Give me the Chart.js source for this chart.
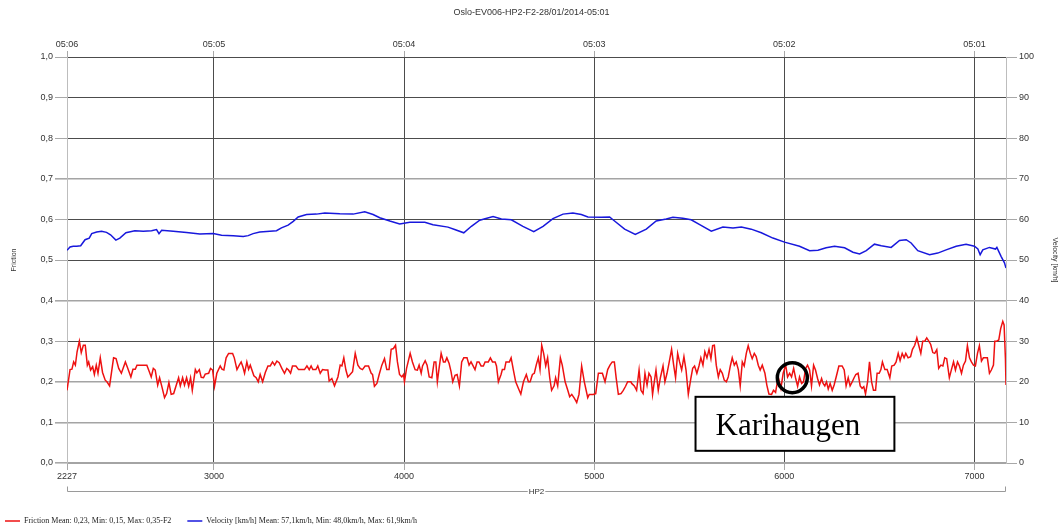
<!DOCTYPE html>
<html>
<head>
<meta charset="utf-8">
<script src="https://cdn.jsdelivr.net/npm/chart.js@4.4.1/dist/chart.umd.min.js"></script>
<style>
  html, body { margin: 0; padding: 0; background: #fff; }
  canvas { display: block; }
</style>
</head>
<body>
<canvas id="chart" width="1063" height="530"></canvas>
<script>
// ---- data ----
const chartTitle = 'Oslo-EV006-HP2-F2-28/01/2014-05:01';
const distStart = 2227;
const distEnd = 7166;
const distTicks = [2227, 3000, 4000, 5000, 6000, 7000];
const timeTicks = ['05:06', '05:05', '05:04', '05:03', '05:02', '05:01'];
const sectionLabel = 'HP2';
const legendLabels = [
  'Friction Mean: 0,23, Min: 0,15, Max: 0,35-F2',
  'Velocity [km/h] Mean: 57,1km/h, Min: 48,0km/h, Max: 61,9km/h'
];

const frictionDist = [
  2227,2232,2243,2253,2262,2271,2280,2292,2302,2313,2323,2334,2341,2351,2362,2371,2381,2390,2402,2414,
  2428,2437,2451,2472,2485,2499,2513,2534,2546,2563,2574,2586,2595,2647,2660,2670,2681,2691,2704,2714,
  2726,2740,2751,2763,2775,2788,2802,2814,2823,2835,2845,2856,2867,2877,2886,2902,2910,2923,2933,2945,
  2954,2972,2982,2993,3003,3015,3033,3042,3052,3064,3077,3098,3107,3121,3133,3143,3152,3161,3173,3182,
  3191,3210,3222,3233,3243,3256,3270,3284,3296,3308,3319,3331,3343,3357,3371,3383,3392,3403,3413,3431,
  3445,3476,3489,3501,3511,3520,3536,3546,3559,3571,3585,3599,3606,3620,3634,3652,3664,3673,3683,3694,
  3704,3716,3729,3743,3757,3769,3781,3795,3813,3827,3834,3844,3857,3869,3883,3897,3909,3921,3932,3944,
  3955,3965,3976,3988,3997,4002,4013,4032,4044,4058,4070,4079,4090,4097,4111,4121,4132,4146,4158,4167,
  4175,4184,4195,4207,4216,4225,4237,4247,4256,4268,4279,4291,4303,4314,4331,4342,4352,4363,4373,4384,
  4394,4405,4417,4426,4443,4454,4465,4479,4486,4496,4510,4517,4528,4536,4554,4563,4575,4587,4601,4614,
  4628,4643,4654,4663,4675,4685,4696,4706,4715,4724,4734,4745,4755,4766,4776,4789,4797,4808,4822,4832,
  4847,4861,4871,4882,4896,4908,4920,4934,4948,4966,4974,4995,5008,5022,5043,5057,5071,5083,5095,5106,
  5116,5127,5141,5153,5165,5176,5193,5197,5211,5223,5236,5246,5257,5267,5278,5288,5299,5307,5316,5325,
  5337,5348,5362,5372,5383,5393,5407,5418,5428,5439,5449,5460,5472,5483,5495,5509,5518,5528,5540,5551,
  5561,5572,5582,5593,5604,5614,5623,5632,5642,5653,5663,5674,5684,5695,5705,5716,5726,5737,5747,5758,
  5768,5779,5789,5800,5810,5821,5831,5842,5852,5863,5873,5884,5898,5908,5919,5933,5943,5954,5968,5982,
  5994,6007,6017,6028,6038,6049,6059,6070,6080,6091,6101,6112,6122,6133,6143,6154,6164,6175,6185,6196,
  6204,6213,6222,6231,6241,6252,6262,6275,6287,6304,6315,6325,6336,6346,6357,6367,6376,6388,6399,6409,
  6418,6427,6438,6448,6459,6469,6480,6488,6499,6508,6516,6529,6541,6555,6565,6578,6588,6599,6609,6620,
  6630,6639,6651,6664,6674,6686,6697,6707,6718,6728,6739,6749,6760,6770,6781,6791,6802,6812,6823,6834,
  6844,6854,6868,6879,6890,6900,6911,6921,6932,6942,6953,6963,6974,6984,6995,7005,7016,7026,7037,7047,
  7058,7068,7079,7089,7100,7107,7117,7128,7138,7149,7156,7163,7166
];
const frictionVal = [
  0.179,0.179,0.230,0.231,0.249,0.241,0.274,0.300,0.272,0.290,0.290,0.241,0.249,0.229,0.237,0.218,0.241,0.221,0.259,0.223,
  0.204,0.200,0.190,0.259,0.257,0.233,0.221,0.249,0.234,0.212,0.231,0.231,0.241,0.241,0.225,0.212,0.233,0.229,0.192,0.210,
  0.188,0.161,0.171,0.198,0.169,0.171,0.192,0.210,0.190,0.210,0.192,0.210,0.189,0.210,0.179,0.230,0.222,0.230,0.211,0.210,
  0.219,0.221,0.233,0.229,0.189,0.221,0.239,0.231,0.229,0.259,0.270,0.270,0.259,0.230,0.241,0.249,0.237,0.221,0.249,0.231,
  0.241,0.215,0.210,0.200,0.218,0.200,0.223,0.239,0.239,0.249,0.241,0.251,0.247,0.233,0.221,0.233,0.229,0.221,0.239,0.239,
  0.230,0.230,0.239,0.230,0.239,0.230,0.230,0.239,0.221,0.230,0.229,0.229,0.202,0.208,0.190,0.212,0.241,0.239,0.259,0.229,
  0.212,0.218,0.225,0.270,0.241,0.233,0.230,0.239,0.239,0.221,0.218,0.189,0.196,0.218,0.241,0.257,0.230,0.230,0.280,0.282,
  0.290,0.249,0.218,0.212,0.218,0.200,0.233,0.270,0.249,0.230,0.229,0.241,0.221,0.239,0.252,0.241,0.212,0.210,0.249,0.249,
  0.200,0.233,0.270,0.249,0.249,0.259,0.245,0.225,0.200,0.216,0.218,0.190,0.249,0.259,0.259,0.241,0.249,0.239,0.230,0.249,
  0.249,0.239,0.239,0.249,0.249,0.259,0.249,0.249,0.239,0.200,0.218,0.230,0.230,0.249,0.249,0.259,0.229,0.200,0.184,0.170,
  0.200,0.218,0.200,0.200,0.218,0.221,0.243,0.259,0.230,0.290,0.270,0.239,0.259,0.210,0.179,0.190,0.210,0.190,0.259,0.241,
  0.200,0.179,0.163,0.169,0.159,0.149,0.169,0.239,0.200,0.161,0.169,0.169,0.171,0.221,0.221,0.200,0.230,0.241,0.249,0.249,
  0.208,0.169,0.171,0.179,0.189,0.200,0.200,0.196,0.190,0.179,0.229,0.179,0.171,0.221,0.192,0.221,0.212,0.169,0.200,0.229,
  0.179,0.210,0.239,0.200,0.221,0.245,0.280,0.241,0.210,0.270,0.249,0.229,0.262,0.229,0.169,0.210,0.233,0.239,0.221,0.239,
  0.259,0.241,0.274,0.259,0.280,0.257,0.289,0.290,0.241,0.212,0.230,0.221,0.204,0.200,0.212,0.239,0.259,0.241,0.249,0.230,
  0.190,0.249,0.239,0.270,0.289,0.270,0.257,0.270,0.262,0.241,0.229,0.241,0.221,0.192,0.170,0.169,0.179,0.174,0.212,0.184,
  0.221,0.241,0.212,0.221,0.212,0.233,0.210,0.189,0.212,0.196,0.200,0.233,0.241,0.229,0.190,0.241,0.229,0.208,0.192,0.208,
  0.196,0.190,0.200,0.182,0.196,0.179,0.192,0.216,0.239,0.239,0.229,0.190,0.210,0.190,0.200,0.210,0.218,0.221,0.190,0.184,
  0.188,0.170,0.200,0.249,0.200,0.179,0.179,0.221,0.221,0.230,0.249,0.230,0.230,0.210,0.239,0.241,0.249,0.270,0.252,0.270,
  0.259,0.270,0.259,0.262,0.280,0.290,0.308,0.290,0.270,0.300,0.300,0.308,0.300,0.292,0.272,0.270,0.279,0.233,0.241,0.239,
  0.259,0.257,0.210,0.230,0.249,0.229,0.249,0.239,0.221,0.241,0.251,0.289,0.259,0.249,0.241,0.239,0.270,0.289,0.251,0.259,
  0.259,0.259,0.221,0.229,0.241,0.300,0.300,0.303,0.331,0.349,0.340,0.257,0.192
];

const speedDist = [
  2227,2243,2260,2278,2299,2322,2344,2357,2383,2409,2435,2456,2484,2505,2537,2584,2628,2672,2698,2711,
  2725,2786,2856,2926,2996,3040,3101,3154,3180,3206,3241,3294,3329,3355,3390,3417,3443,3487,3539,3583,
  3662,3732,3793,3837,3872,3925,3977,4030,4109,4152,4231,4266,4314,4354,4398,4468,4512,4564,4625,4682,
  4731,4783,4836,4888,4932,4967,5037,5081,5107,5160,5216,5274,5326,5379,5414,5466,5510,5555,5616,5677,
  5730,5774,5826,5879,5940,6001,6080,6133,6177,6220,6264,6317,6361,6396,6431,6474,6510,6562,6606,6641,
  6667,6702,6764,6807,6851,6904,6956,7000,7018,7030,7044,7079,7111,7118,7140,7158,7166
];
const speedVal = [
  52.4,53.2,53.4,53.4,53.5,55.0,55.4,56.5,56.9,57.1,56.8,56.2,54.9,55.4,56.7,57.2,57.1,57.2,57.5,56.5,
  57.3,57.1,56.8,56.4,56.5,56.1,56.0,55.8,56.0,56.5,56.9,57.1,57.2,57.9,58.6,59.5,60.6,61.2,61.3,61.6,
  61.4,61.3,61.9,61.2,60.4,59.6,58.9,59.3,59.3,58.7,58.1,57.5,56.7,58.3,59.8,60.7,60.1,59.9,58.3,57.0,
  58.3,60.2,61.3,61.6,61.2,60.6,60.5,60.6,59.6,57.6,56.3,57.6,59.6,60.1,60.5,60.3,59.9,58.7,57.1,58.1,
  57.9,58.1,57.6,56.7,55.4,54.4,53.4,52.3,52.4,53.0,53.4,53.0,51.9,51.5,52.3,53.9,53.5,53.1,54.8,55.0,
  54.2,52.3,51.3,51.7,52.5,53.4,53.9,53.4,52.7,51.3,52.5,53.1,52.7,53.1,50.9,49.3,48.0
];

// marked location and its caption, in data units (distance / friction)
const note = { text: 'Karihaugen', xMin: 5533, xMax: 6579, yMin: 0.03, yMax: 0.163, markX: 6042, markY: 0.21 };

// ---- styling ----
const SANS = "'Liberation Sans', Arial, sans-serif";
const SERIF = "'Liberation Serif', 'Times New Roman', serif";
const RED = '#ee1111';
const BLUE = '#1818dc';
const GRID_DARK = '#4c4c4c';
const GRID_LIGHT = '#a4a4a4';
const lightRows = [0, 1, 2, 4, 7];

const toPoints = (xs, ys) => xs.map((d, i) => ({ x: d, y: ys[i] }));
const fixedTicks = scale => { scale.ticks = distTicks.map(v => ({ value: v })); };

const extras = {
  id: 'extras',
  afterDatasetsDraw(chart) {
    const { ctx } = chart;
    const x = chart.scales.x, y = chart.scales.y;
    const l = x.getPixelForValue(note.xMin), r = x.getPixelForValue(note.xMax);
    const t = y.getPixelForValue(note.yMax), b = y.getPixelForValue(note.yMin);
    ctx.save();
    ctx.fillStyle = '#fff';
    ctx.fillRect(l, t, r - l, b - t);
    ctx.strokeStyle = '#000';
    ctx.lineWidth = 2;
    ctx.strokeRect(l, t, r - l, b - t);
    ctx.fillStyle = '#000';
    ctx.font = '31px ' + SERIF;
    ctx.textAlign = 'left';
    ctx.textBaseline = 'alphabetic';
    ctx.fillText(note.text, l + 20, (t + b) / 2 + 11);
    ctx.beginPath();
    ctx.arc(x.getPixelForValue(note.markX), y.getPixelForValue(note.markY), 15, 0, Math.PI * 2);
    ctx.lineWidth = 3.5;
    ctx.stroke();
    ctx.restore();
  },
  afterDraw(chart) {
    const { ctx, chartArea } = chart;
    const { left, right } = chartArea;
    const x = chart.scales.x;
    // section bracket under the distance axis
    const by = Math.round(x.bottom - 12) + 0.5;
    ctx.save();
    ctx.font = '8px ' + SANS;
    const cx = (left + right) / 2;
    const tw = ctx.measureText(sectionLabel).width;
    ctx.strokeStyle = '#9a9a9a';
    ctx.lineWidth = 1;
    ctx.beginPath();
    ctx.moveTo(left + 0.5, by - 5);
    ctx.lineTo(left + 0.5, by);
    ctx.lineTo(cx - tw / 2 - 1, by);
    ctx.moveTo(cx + tw / 2 + 1, by);
    ctx.lineTo(right - 0.5, by);
    ctx.lineTo(right - 0.5, by - 5);
    ctx.stroke();
    ctx.fillStyle = '#333';
    ctx.textAlign = 'center';
    ctx.textBaseline = 'middle';
    ctx.fillText(sectionLabel, cx, by);

    // legend
    const ly = chart.height - 9;
    const colors = [RED, BLUE];
    ctx.font = '8px ' + SERIF;
    ctx.textAlign = 'left';
    let lx = 5;
    legendLabels.forEach((label, i) => {
      ctx.strokeStyle = colors[i];
      ctx.lineWidth = 1.5;
      ctx.beginPath();
      ctx.moveTo(lx, ly);
      ctx.lineTo(lx + 15, ly);
      ctx.stroke();
      ctx.fillStyle = '#222';
      ctx.fillText(label, lx + 19, ly);
      lx += 19 + ctx.measureText(label).width + 16;
    });
    ctx.restore();
  }
};

new Chart(document.getElementById('chart'), {
  type: 'line',
  data: {
    datasets: [
      {
        label: 'Friction',
        data: toPoints(frictionDist, frictionVal),
        xAxisID: 'x', yAxisID: 'y',
        borderColor: RED, borderWidth: 1.5,
        pointRadius: 0, tension: 0, fill: false
      },
      {
        label: 'Velocity [km/h]',
        data: toPoints(speedDist, speedVal),
        xAxisID: 'x', yAxisID: 'y2',
        borderColor: BLUE, borderWidth: 1.5,
        pointRadius: 0, tension: 0, fill: false
      }
    ]
  },
  options: {
    responsive: false,
    animation: false,
    devicePixelRatio: 1,
    layout: { padding: { left: 0, right: 0, top: 0, bottom: 27 } },
    plugins: {
      legend: { display: false },
      tooltip: { enabled: false },
      title: {
        display: true, text: chartTitle, color: '#333',
        font: { family: SANS, size: 9, weight: 'normal' },
        padding: { top: 7, bottom: 5 }
      }
    },
    scales: {
      x: {
        type: 'linear', position: 'bottom', min: distStart, max: distEnd,
        afterBuildTicks: fixedTicks,
        afterFit: s => { s.height = 40; },
        ticks: {
          autoSkip: false, maxRotation: 0, padding: 1, color: '#333',
          font: { family: SANS, size: 9 },
          callback: v => String(v)
        },
        grid: {
          color: c => (c.index === 0 ? '#bdbdbd' : GRID_DARK),
          tickColor: '#a8a8a8', tickLength: 7
        },
        border: { color: GRID_LIGHT, width: 1 }
      },
      xTop: {
        type: 'linear', position: 'top', min: distStart, max: distEnd,
        afterBuildTicks: fixedTicks,
        afterFit: s => { s.height = 34.2; },
        ticks: {
          autoSkip: false, maxRotation: 0, padding: 1, color: '#333',
          font: { family: SANS, size: 9 },
          callback: v => timeTicks[distTicks.indexOf(v)]
        },
        grid: { drawOnChartArea: false, tickColor: '#a8a8a8', tickLength: 6 },
        border: { color: GRID_DARK, width: 1 }
      },
      y: {
        position: 'left', min: 0, max: 1,
        afterFit: s => { s.width = 67; },
        ticks: {
          stepSize: 0.1, padding: 2, color: '#333',
          font: { family: SANS, size: 9 },
          callback: v => v.toFixed(1).replace('.', ',')
        },
        grid: {
          color: c => (lightRows.includes(Math.round(c.tick.value * 10)) ? GRID_LIGHT : GRID_DARK),
          lineWidth: c => (lightRows.includes(Math.round(c.tick.value * 10)) ? 1.6 : 1),
          tickColor: '#a8a8a8', tickLength: 12
        },
        border: { color: '#bdbdbd', width: 1 },
        title: {
          display: true, text: 'Friction', color: '#333',
          font: { family: SANS, size: 7 }, padding: { top: 10, bottom: 0 }
        }
      },
      y2: {
        position: 'right', min: 0, max: 100,
        afterFit: s => { s.width = 57; },
        ticks: {
          stepSize: 10, padding: 2, color: '#333',
          font: { family: SANS, size: 9 }
        },
        grid: { drawOnChartArea: false, tickColor: '#a8a8a8', tickLength: 11 },
        border: { color: '#bdbdbd', width: 1 },
        title: {
          display: true, text: 'Velocity [km/h]', color: '#333',
          font: { family: SANS, size: 7 }, padding: { top: 4, bottom: 0 }
        }
      }
    }
  },
  plugins: [extras]
});
</script>
</body>
</html>
